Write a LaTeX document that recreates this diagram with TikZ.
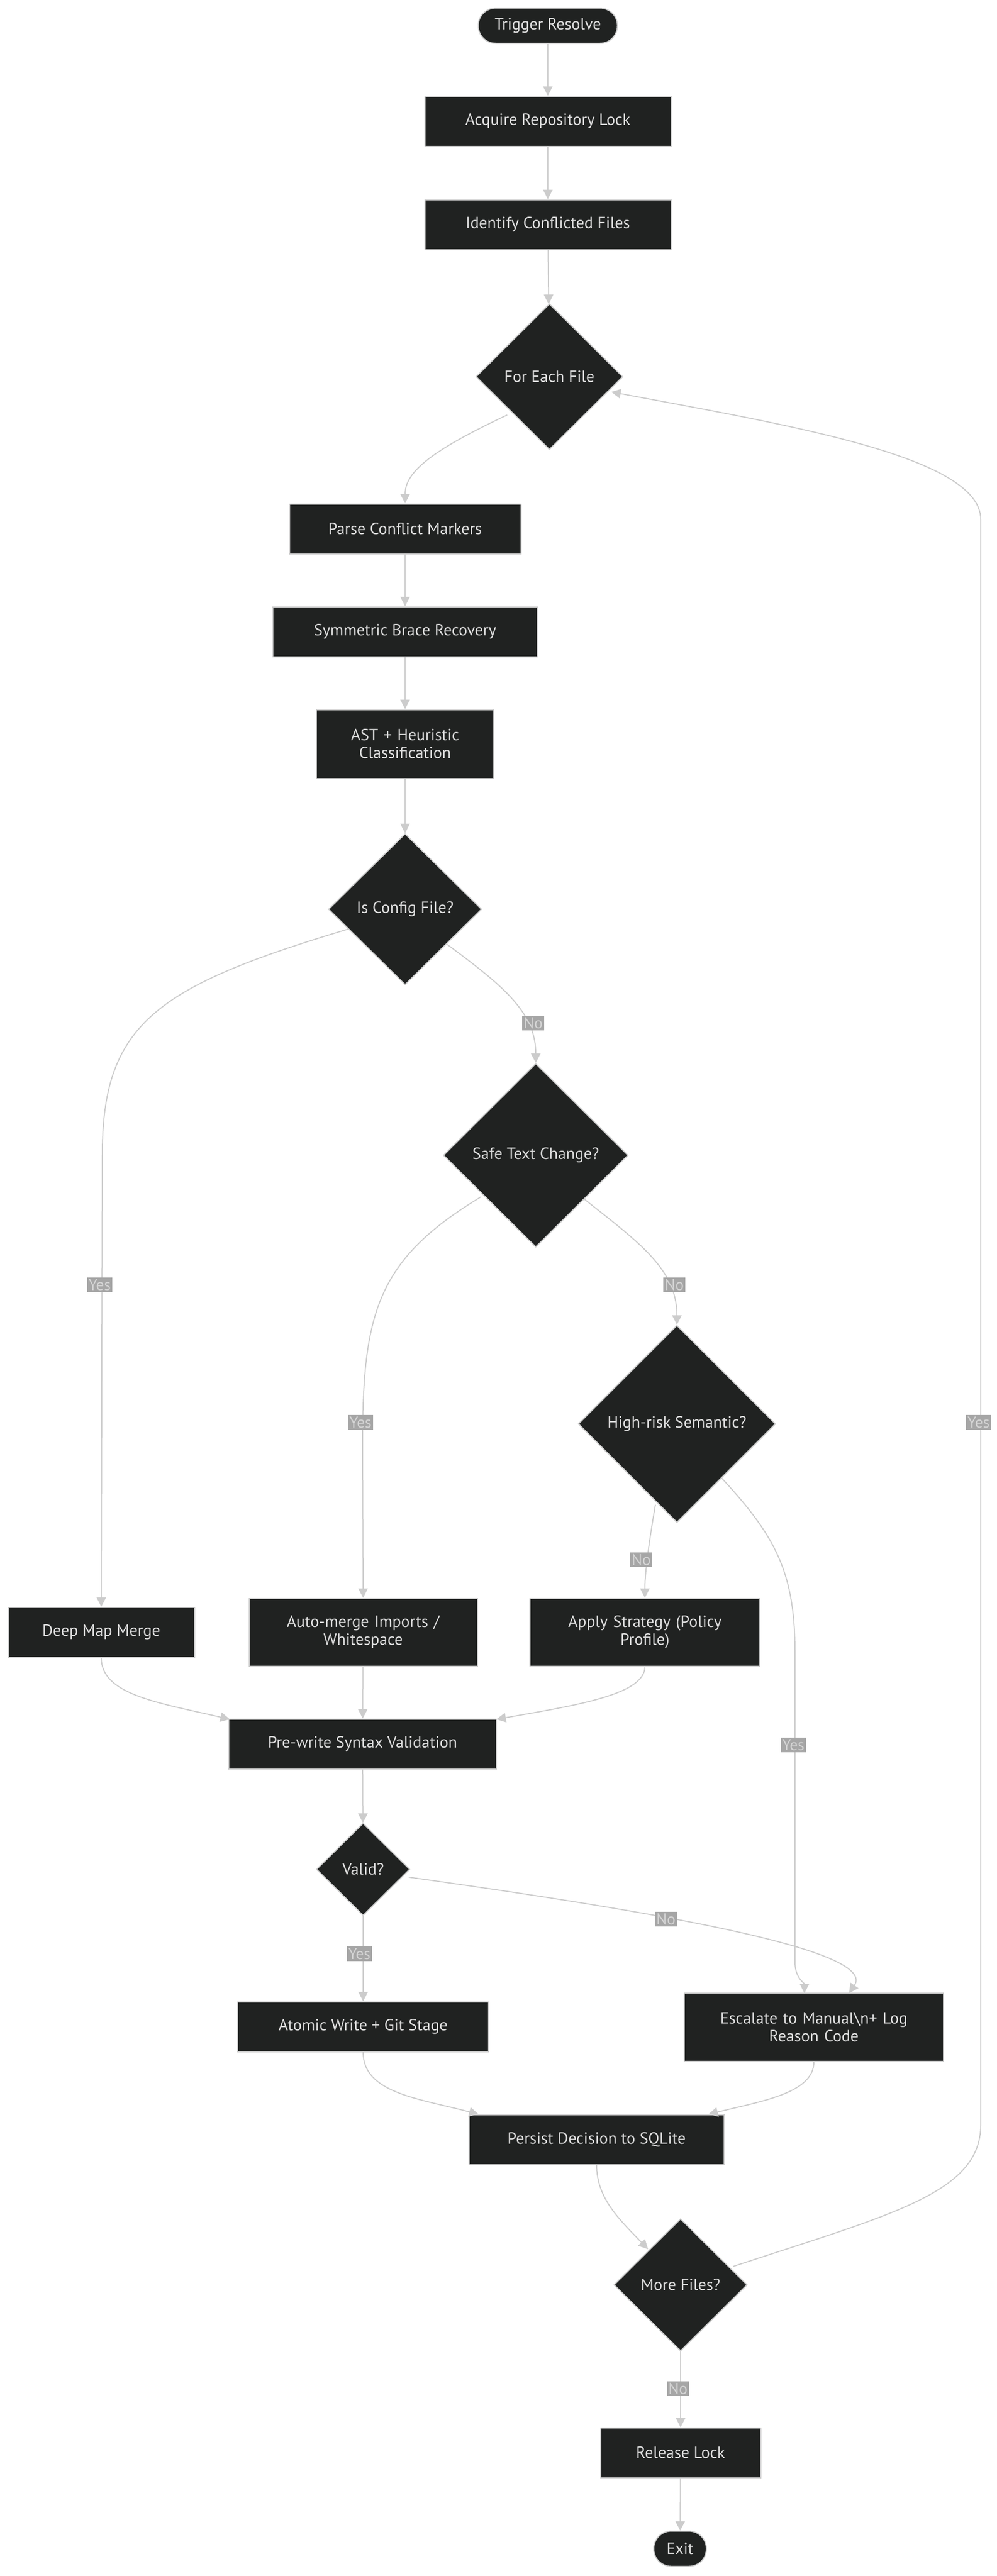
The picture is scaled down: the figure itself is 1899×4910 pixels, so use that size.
\documentclass[tikz,border=0pt]{standalone}
\usepackage{fontspec}
\setmainfont{PT Sans}
\usetikzlibrary{shapes.geometric,arrows.meta}
\definecolor{nfill}{HTML}{202221}
\definecolor{nline}{HTML}{CCCCCC}
\definecolor{ntext}{HTML}{DDDDDD}
\definecolor{lbg}{HTML}{A6A6A6}
\definecolor{ltext}{HTML}{D4D4D4}
\begin{document}
\begin{tikzpicture}[x=1pt,y=-1pt,
  every node/.style={font=\fontsize{31}{34}\selectfont, text=ntext},
  box/.style={draw=nline, line width=2pt, fill=nfill, minimum height=95pt, inner sep=4pt, align=center},
  term/.style={box, rounded corners=33pt, minimum height=67pt},
  dia/.style={diamond, draw=nline, line width=2pt, fill=nfill, inner sep=0pt, aspect=1},
  lbl/.style={fill=lbg, text=ltext, inner sep=3pt, font=\fontsize{30}{32}\selectfont},
  e/.style={draw=nline, line width=2pt, -{Triangle[length=18pt,width=18pt]}}]
\useasboundingbox[fill=white] (0,0) rectangle (1899,4910);
\node[term, minimum width=265pt] (start) at (1044,49) {Trigger Resolve};
\node[box, minimum width=469pt] (acq) at (1044,231) {Acquire Repository Lock};
\node[box, minimum width=469pt] (ident) at (1044,428) {Identify Conflicted Files};
\node[dia, minimum width=280pt, minimum height=278pt] (each) at (1047,718) {For Each File};
\node[box, minimum width=441pt] (parse) at (772,1008) {Parse Conflict Markers};
\node[box, minimum width=504pt] (sym) at (772,1204) {Symmetric Brace Recovery};
\node[box, minimum width=338pt, minimum height=131pt, text width=320pt] (ast) at (772,1418) {AST + Heuristic\\Classification};
\node[dia, minimum width=292pt, minimum height=288pt] (cfg) at (772,1733) {Is Config File?};
\node[dia, minimum width=352pt, minimum height=350pt] (safe) at (1021,2202) {Safe Text Change?};
\node[dia, minimum width=376pt, minimum height=376pt] (high) at (1290,2714) {High-risk Semantic?};
\node[box, minimum width=355pt] (deep) at (193,3111) {Deep Map Merge};
\node[box, minimum width=435pt, minimum height=129pt, text width=420pt] (auto) at (692,3111) {Auto-merge Imports /\\Whitespace};
\node[box, minimum width=438pt, minimum height=129pt, text width=420pt] (apply) at (1229,3111) {Apply Strategy (Policy\\Profile)};
\node[box, minimum width=510pt] (pre) at (691,3324) {Pre-write Syntax Validation};
\node[dia, minimum width=178pt, minimum height=176pt] (valid) at (692,3563) {Valid?};
\node[box, minimum width=478pt] (atomic) at (692,3863) {Atomic Write + Git Stage};
\node[box, minimum width=494pt, minimum height=130pt, text width=480pt] (esc) at (1551,3864) {Escalate to Manual\textbackslash n+ Log\\Reason Code};
\node[box, minimum width=486pt] (persist) at (1137,4078) {Persist Decision to SQLite};
\node[dia, minimum width=254pt, minimum height=252pt] (more) at (1297,4355) {More Files?};
\node[box, minimum width=305pt] (rel) at (1297,4675) {Release Lock};
\node[term, minimum width=100pt] (exit) at (1296,4858) {Exit};

\path[e] (start) -- (acq);
\path[e] (acq) -- (ident);
\path[e] (ident) -- (each);
\path[e] (each.south west) ++(-10pt,-3pt) coordinate (c1) (c1) .. controls (820,860) and (772,900) .. (parse.north);
\path[e] (parse) -- (sym);
\path[e] (sym) -- (ast);
\path[e] (ast) -- (cfg);
\coordinate (cfgl) at (663,1771);
\path[e] (cfgl) .. controls (300,1880) and (195,1950) .. (195,2200) -- (deep.north);
\coordinate (cfgr) at (852,1800);
\path[e] (cfgr) .. controls (960,1880) and (1021,1930) .. (safe.north);
\coordinate (safel) at (917,2281);
\path[e] (safel) .. controls (720,2400) and (691,2500) .. (691,2750) -- (auto.north);
\coordinate (safer) at (1114,2286);
\path[e] (safer) .. controls (1220,2370) and (1290,2420) .. (high.north);
\coordinate (highl) at (1249,2868);
\path[e] (highl) .. controls (1235,2950) and (1229,3000) .. (apply.north);
\coordinate (highr) at (1375,2817);
\coordinate (escin) at (1533,3799);
\path[e] (highr) .. controls (1480,2930) and (1515,3000) .. (1515,3150) -- (1515,3740) .. controls (1515,3770) and (1533,3780) .. (escin);
\coordinate (prel) at (438,3277);
\coordinate (prer) at (946,3277);
\path[e] (deep.south) .. controls (193,3230) and (300,3245) .. (prel);
\path[e] (auto) -- (pre);
\path[e] (apply.south) .. controls (1229,3230) and (1100,3250) .. (prer);
\path[e] (pre) -- (valid);
\path[e] (valid) -- (atomic);
\coordinate (validr) at (779,3578);
\coordinate (escin2) at (1618,3799);
\path[e] (validr) .. controls (1150,3630) and (1680,3710) .. (escin2);
\coordinate (perl) at (912,4030);
\coordinate (perr) at (1350,4030);
\path[e] (atomic.south) .. controls (692,3990) and (800,4000) .. (perl);
\path[e] (esc.south) .. controls (1551,3990) and (1450,4005) .. (perr);
\coordinate (morein) at (1235,4287);
\path[e] (persist.south) .. controls (1137,4190) and (1180,4230) .. (morein);
\coordinate (morer) at (1397,4320);
\coordinate (eachr) at (1165,747);
\path[e] (morer) .. controls (1700,4220) and (1869,4180) .. (1869,4050) -- (1869,990) .. controls (1869,870) and (1500,810) .. (eachr);
\path[e] (more) -- (rel);
\path[e] (rel) -- (exit);

\node[lbl] (l1) at (1016,1950) {No};
\node[lbl] (l2) at (190,2449) {Yes};
\node[lbl] (l3) at (1285,2449) {No};
\node[lbl] (l4) at (687,2711) {Yes};
\node[lbl] (l5) at (1865,2711) {Yes};
\node[lbl] (l6) at (1222,2973) {No};
\node[lbl] (l7) at (1512,3326) {Yes};
\node[lbl] (l8) at (1269,3658) {No};
\node[lbl] (l9) at (685,3724) {Yes};
\node[lbl] (l10) at (1292,4553) {No};
\end{tikzpicture}
\end{document}
